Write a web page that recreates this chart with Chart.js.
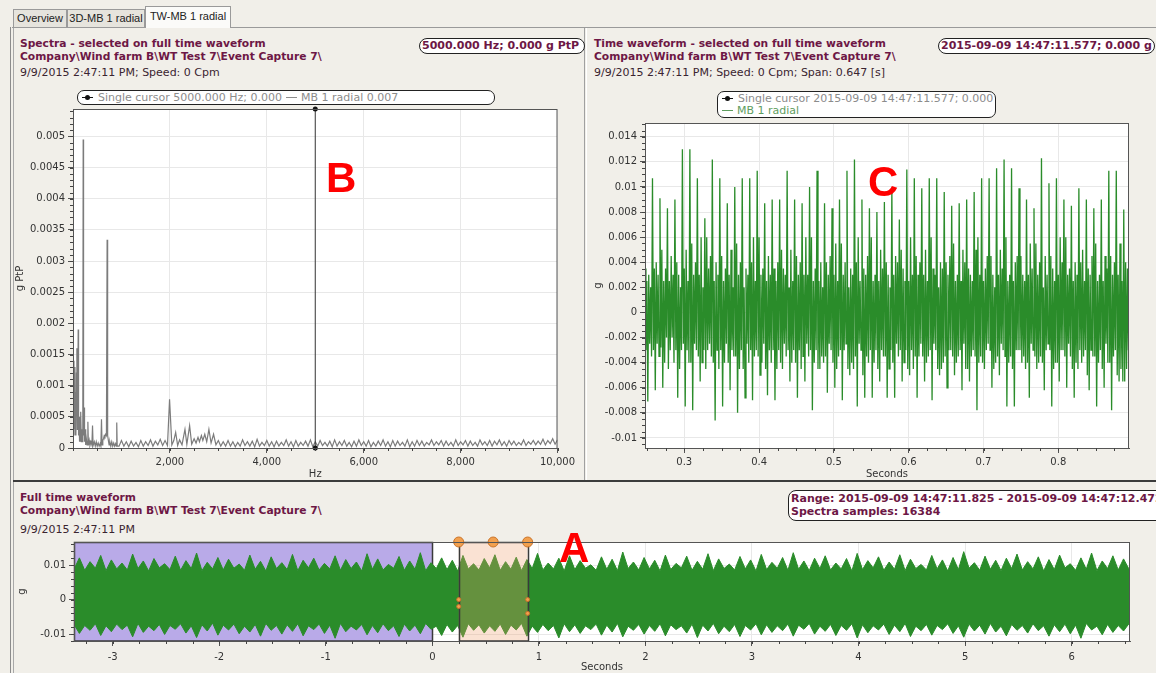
<!DOCTYPE html>
<html>
<head>
<meta charset="utf-8">
<title>TW-MB 1 radial</title>
<script src="https://cdn.jsdelivr.net/npm/chart.js@4.4.1/dist/chart.umd.min.js"></script>
<style>
    body { margin: 0; width: 1156px; height: 673px; overflow: hidden; position: relative;
           background: #f1efe9; font-family: "DejaVu Sans", sans-serif; }
    .abs { position: absolute; white-space: nowrap; }
    .hd { font-size: 10.7px; line-height: 12px; font-weight: bold; color: #6d1745; }
    .sub { font-size: 11px; line-height: 12px; color: #3a2430; }
    .vbox { position: absolute; background: #fff; border: 1px solid #222; border-radius: 8px;
            font-size: 11px; line-height: 13px; font-weight: bold; color: #6d1745; padding-left: 2px; box-sizing: border-box; white-space: nowrap; }
    .legend { position: absolute; background: #fff; border: 1px solid #222; border-radius: 7px;
              font-size: 11px; line-height: 12px; color: #8c8c8c; box-sizing: border-box; white-space: nowrap; padding-left: 4px; }
    .mk { display: inline-block; position: relative; width: 11px; height: 1px; background: #111; vertical-align: 3px; margin-right: 5px; }
    .mk::after { content: ""; position: absolute; left: 3px; top: -2px; width: 5px; height: 5px; border-radius: 50%; background: #111; }
    .dash { display: inline-block; width: 11px; height: 1px; background: #8c8c8c; vertical-align: 3px; margin: 0 4px; }
    .tab { position: absolute; font-family: "Liberation Sans", sans-serif; font-size: 11px; color: #222;
           border: 1px solid #9a9a9a; border-bottom: none; background: #e6e4dd; box-sizing: border-box; text-align: center; }
    .big { position: absolute; font-family: "Liberation Sans", Arial, sans-serif; font-weight: bold; font-size: 42px; line-height: 42px; color: #f00; }
    canvas { position: absolute; }
</style>
</head>
<body>

<!-- tabs and panel frame -->
<div class="tab" style="left:13px;top:9px;width:54px;height:18px;line-height:17px;">Overview</div>
<div class="tab" style="left:67px;top:9px;width:78px;height:18px;line-height:17px;">3D-MB 1 radial</div>
<div class="tab" style="left:145px;top:6px;width:86px;height:22px;line-height:19px;background:#fbfbf9;z-index:2;">TW-MB 1 radial</div>
<div class="abs" style="left:12px;top:27px;width:1144px;height:1px;background:#9a9a9a;"></div>
<div class="abs" style="left:10px;top:27px;width:1px;height:646px;background:#8c8c8c;"></div>
<div class="abs" style="left:13px;top:28px;width:1px;height:645px;background:#a8a8a8;"></div>
<div class="abs" style="left:584px;top:28px;width:1px;height:452px;background:#a0a0a0;"></div>
<div class="abs" style="left:586px;top:28px;width:1px;height:452px;background:#fff;"></div>
<div class="abs" style="left:13px;top:480px;width:1143px;height:2px;background:#3c3c3c;"></div>

<!-- spectrum panel text -->
<div class="abs hd" style="left:20px;top:38px;">Spectra - selected on full time waveform</div>
<div class="abs hd" style="left:20px;top:51px;">Company\Wind farm B\WT Test 7\Event Capture 7\</div>
<div class="abs sub" style="left:20px;top:67px;">9/9/2015 2:47:11 PM; Speed: 0 Cpm</div>
<div class="vbox" style="left:419px;top:38px;width:166px;height:16px;">5000.000 Hz; 0.000 g PtP</div>
<div class="legend" style="left:77px;top:90px;width:418px;height:15px;line-height:13px;"><span class="mk"></span>Single cursor 5000.000 Hz; 0.000<span class="dash"></span>MB 1 radial 0.007</div>

<!-- time waveform panel text -->
<div class="abs hd" style="left:594px;top:38px;">Time waveform - selected on full time waveform</div>
<div class="abs hd" style="left:594px;top:51px;">Company\Wind farm B\WT Test 7\Event Capture 7\</div>
<div class="abs sub" style="left:594px;top:67px;">9/9/2015 2:47:11 PM; Speed: 0 Cpm; Span: 0.647 [s]</div>
<div class="vbox" style="left:938px;top:38px;width:217px;height:16px;">2015-09-09 14:47:11.577; 0.000 g</div>
<div class="legend" style="left:717px;top:91px;width:279px;height:27px;padding-top:1px;">
    <div><span class="mk"></span>Single cursor 2015-09-09 14:47:11.577; 0.000</div>
    <div style="color:#5f9e5f;"><span class="dash" style="background:#5f9e5f;margin:0 4px 0 0;"></span>MB 1 radial</div>
</div>

<!-- full waveform panel text -->
<div class="abs hd" style="left:20px;top:492px;">Full time waveform</div>
<div class="abs hd" style="left:20px;top:505px;">Company\Wind farm B\WT Test 7\Event Capture 7\</div>
<div class="abs sub" style="left:20px;top:524px;">9/9/2015 2:47:11 PM</div>
<div class="vbox" style="left:788px;top:490px;width:380px;height:31px;line-height:13px;padding-top:1px;">Range: 2015-09-09 14:47:11.825 - 2015-09-09 14:47:12.472<br>Spectra samples: 16384</div>

<canvas id="specChart" width="566" height="382" style="left:12px;top:100px;"></canvas>
<canvas id="waveChart" width="562" height="368" style="left:590px;top:114px;"></canvas>
<canvas id="fullChart" width="1140" height="140" style="left:14px;top:533px;"></canvas>

<div class="big" style="left:326px;top:157px;">B</div>
<div class="big" style="left:868px;top:161px;">C</div>
<div class="big" style="left:559px;top:527px;">A</div>

<script>
// ---- B: spectrum of the selected range (Hz, g PtP) ----
const specTicksX = [2000, 4000, 6000, 8000, 10000];
const specTicksY = [0, 0.0005, 0.001, 0.0015, 0.002, 0.0025, 0.003, 0.0035, 0.004, 0.0045, 0.005];
const cursorHz = 5000;
const specPoints = [
    [10,0.0014],[20,0.0003],[30,0.0013],[40,0.0002],[50,0.0009],[60,0.0002],[70,0.0012],[80,0.0016],[90,0.0003],[100,0.001],
    [107,0.0019],[115,0.0002],[125,0.0005],[135,0.0001],[145,0.0004],[155,0.0001],[163,0.00058],[172,0.0001],[185,0.0003],[195,0.0001],
    [202,0.0003],[210,0.00495],[218,0.0002],[228,0.00065],[238,0.0001],[250,0.0003],[262,0.00005],[275,0.00015],[290,0.00005],[307,0.00042],
    [318,0.00004],[335,0.00012],[350,0.00004],[370,0.0001],[390,0.00005],[403,0.00036],[415,0.00004],[440,0.0001],[460,0.00003],[480,0.0001],
    [500,0.00003],[520,0.00008],[540,0.00003],[560,0.00007],[575,0.00003],[588,0.00046],[600,0.00005],[615,0.00012],[630,0.00015],[645,0.0002],
    [660,0.00018],[675,0.00022],[690,0.0002],[704,0.00334],[715,0.0002],[730,0.00012],[745,0.00005],[760,0.0001],[780,0.00003],[800,0.0001],
    [820,0.00003],[840,0.00008],[860,0.00003],[880,0.00007],[895,0.00003],[903,0.00041],[912,0.00003],
    [950,0.00003],[1000,0.00012],[1050,0.00003],[1100,0.0001],[1150,0.00002],[1200,0.00011],[1250,0.00003],[1300,0.00009],[1350,0.00002],[1400,0.00012],
    [1450,0.00003],[1500,0.0001],[1550,0.00004],[1600,0.00013],[1650,0.00003],[1700,0.00011],[1750,0.00005],[1800,0.00014],[1850,0.00004],[1900,0.00012],
    [1950,0.00004],[1993,0.00078],[2040,0.00005],[2080,0.00012],[2119,0.00025],[2160,0.00004],[2200,0.00013],[2250,0.00005],[2311,0.0003],[2350,0.00006],
    [2407,0.00036],[2450,0.00006],[2500,0.00015],[2540,0.00008],[2580,0.00017],[2610,0.0001],[2650,0.0002],[2680,0.00012],[2720,0.00022],[2760,0.0001],
    [2805,0.0003],[2850,0.00008],[2901,0.00022],[2950,0.00005],[3000,0.00012],[3050,0.00003],[3100,0.0001],[3150,0.00003],
    [3200,0.00012],[3250,0.00003],[3300,0.0001],[3350,0.00002],[3400,0.00009],[3450,0.00003],[3500,0.00013],[3550,0.00004],[3600,0.0001],[3650,0.00003],
    [3700,0.00011],[3750,0.00002],[3800,0.00014],[3850,0.00003],[3900,0.00009],[3950,0.00004],[4000,0.00012],[4050,0.00003],[4100,0.0001],[4150,0.00002],
    [4200,0.00011],[4250,0.00003],[4300,0.00009],[4350,0.00004],[4400,0.00013],[4450,0.00003],[4500,0.0001],[4550,0.00002],[4600,0.00012],[4650,0.00003],
    [4700,0.00009],[4750,0.00004],[4800,0.00011],[4850,0.00003],[4900,0.00013],[4950,0.00002],[5000,0.0001],[5050,0.00003],[5100,0.00012],[5150,0.00004],
    [5200,0.00009],[5250,0.00003],[5300,0.00011],[5350,0.00002],[5400,0.00013],[5450,0.00003],[5500,0.0001],[5550,0.00004],[5600,0.00012],[5650,0.00003],
    [5700,0.00009],[5750,0.00002],[5800,0.00011],[5850,0.00003],[5900,0.00013],[5950,0.00004],[6000,0.0001],[6050,0.00003],[6100,0.00012],[6150,0.00002],
    [6200,0.00009],[6250,0.00003],[6300,0.00011],[6350,0.00004],[6400,0.00013],[6450,0.00003],[6500,0.0001],[6550,0.00002],[6600,0.00012],[6650,0.00003],
    [6700,0.00011],[6750,0.00004],[6800,0.00009],[6850,0.00003],[6900,0.00013],[6950,0.00002],[7000,0.0001],[7050,0.00003],[7100,0.00012],[7150,0.00004],
    [7200,0.00011],[7250,0.00003],[7300,0.00009],[7350,0.00005],[7400,0.00013],[7450,0.00004],[7500,0.0001],[7550,0.00005],[7600,0.00012],[7650,0.00003],
    [7700,0.00011],[7750,0.00004],[7800,0.00009],[7850,0.00003],[7900,0.00013],[7950,0.00004],[8000,0.0001],[8050,0.00005],[8100,0.00012],[8150,0.00003],
    [8200,0.00011],[8250,0.00004],[8300,0.00009],[8350,0.00003],[8400,0.00013],[8450,0.00005],[8500,0.0001],[8550,0.00004],[8600,0.00012],[8650,0.00003],
    [8700,0.00011],[8750,0.00005],[8800,0.00013],[8850,0.00004],[8900,0.0001],[8950,0.00003],[9000,0.00012],[9050,0.00005],[9100,0.00011],[9150,0.00004],
    [9200,0.00009],[9250,0.00005],[9300,0.00013],[9350,0.00004],[9400,0.0001],[9450,0.00006],[9500,0.00012],[9550,0.00005],[9600,0.00011],[9650,0.00006],
    [9700,0.00014],[9750,0.00005],[9800,0.00012],[9850,0.00007],[9900,0.00015],[9950,0.00006],[10000,0.00013]
];

// ---- C: selected time waveform, one sample every waveStep seconds from waveStart (g) ----
const waveStart = 0.2475, waveStep = 0.00125;
const waveTicksX = [0.3, 0.4, 0.5, 0.6, 0.7, 0.8];
const waveTicksY = [-0.01, -0.008, -0.006, -0.004, -0.002, 0, 0.002, 0.004, 0.006, 0.008, 0.01, 0.012, 0.014];
const waveValues = [
    0.0035,-0.0030,0.0025,-0.0071,0.0030,-0.0025,0.0020,-0.0035,  0.0107,-0.0030,0.0035,-0.0062,0.0040,-0.0025,0.0030,-0.0035,
    0.0091,-0.0028,0.0050,-0.0060,0.0025,-0.0040,0.0035,-0.0020,  0.0083,-0.0045,0.0025,-0.0030,0.0045,-0.0020,0.0030,-0.0040,
    0.0090,-0.0030,0.0040,-0.0068,0.0030,-0.0045,0.0020,-0.0030,  0.0130,-0.0025,0.0035,-0.0075,0.0050,-0.0030,0.0025,-0.0040,
    0.0130,-0.0040,0.0055,-0.0078,0.0030,-0.0025,0.0040,-0.0030,  0.0107,-0.0035,0.0030,-0.0055,0.0060,-0.0040,0.0020,-0.0030,
    0.0075,-0.0045,0.0060,-0.0030,0.0035,-0.0025,0.0045,-0.0035,  0.0122,-0.0040,0.0025,-0.0086,0.0040,-0.0030,0.0030,-0.0045,
    0.0107,-0.0030,0.0045,-0.0075,0.0025,-0.0040,0.0035,-0.0025,  0.0087,-0.0040,0.0030,-0.0062,0.0050,-0.0030,0.0020,-0.0035,
    0.0100,-0.0035,0.0055,-0.0080,0.0030,-0.0045,0.0040,-0.0030,  0.0107,-0.0045,0.0020,-0.0068,0.0035,-0.0025,0.0030,-0.0040,
    0.0107,-0.0030,0.0040,-0.0070,0.0060,-0.0035,0.0025,-0.0030,  0.0113,-0.0035,0.0060,-0.0050,0.0030,-0.0040,0.0035,-0.0025,
    0.0087,-0.0045,0.0025,-0.0066,0.0045,-0.0030,0.0030,-0.0040,  0.0090,-0.0030,0.0035,-0.0070,0.0025,-0.0045,0.0040,-0.0030,
    0.0090,-0.0040,0.0050,-0.0045,0.0035,-0.0025,0.0030,-0.0035,  0.0113,-0.0030,0.0020,-0.0055,0.0050,-0.0040,0.0025,-0.0030,
    0.0090,-0.0040,0.0045,-0.0068,0.0030,-0.0030,0.0040,-0.0045,  0.0087,-0.0035,0.0030,-0.0055,0.0060,-0.0025,0.0030,-0.0035,
    0.0100,-0.0030,0.0060,-0.0078,0.0025,-0.0040,0.0035,-0.0030,  0.0113,-0.0045,0.0025,-0.0045,0.0040,-0.0035,0.0020,-0.0040,
    0.0087,-0.0035,0.0040,-0.0064,0.0030,-0.0025,0.0045,-0.0030,  0.0083,-0.0040,0.0030,-0.0060,0.0055,-0.0045,0.0025,-0.0035,
    0.0090,-0.0030,0.0055,-0.0070,0.0030,-0.0030,0.0040,-0.0025,  0.0113,-0.0045,0.0020,-0.0050,0.0035,-0.0040,0.0030,-0.0045,
    0.0122,-0.0035,0.0040,-0.0075,0.0060,-0.0025,0.0025,-0.0030,  0.0090,-0.0050,0.0035,-0.0068,0.0030,-0.0035,0.0045,-0.0040,
    0.0083,-0.0030,0.0060,-0.0068,0.0025,-0.0040,0.0030,-0.0030,  0.0080,-0.0045,0.0025,-0.0055,0.0050,-0.0030,0.0035,-0.0035,
    0.0088,-0.0035,0.0040,-0.0068,0.0030,-0.0045,0.0020,-0.0030,  0.0099,-0.0040,0.0030,-0.0068,0.0045,-0.0025,0.0040,-0.0035,
    0.0074,-0.0030,0.0050,-0.0055,0.0035,-0.0040,0.0025,-0.0030,  0.0114,-0.0045,0.0025,-0.0050,0.0060,-0.0030,0.0030,-0.0045,
    0.0107,-0.0035,0.0045,-0.0068,0.0030,-0.0035,0.0040,-0.0025,  0.0099,-0.0035,0.0030,-0.0055,0.0050,-0.0040,0.0025,-0.0035,
    0.0107,-0.0030,0.0060,-0.0070,0.0035,-0.0025,0.0030,-0.0030,  0.0107,-0.0045,0.0020,-0.0050,0.0040,-0.0045,0.0035,-0.0040,
    0.0096,-0.0035,0.0040,-0.0060,0.0030,-0.0030,0.0045,-0.0030,  0.0085,-0.0035,0.0055,-0.0050,0.0025,-0.0040,0.0030,-0.0035,
    0.0087,-0.0030,0.0025,-0.0062,0.0050,-0.0025,0.0040,-0.0045,  0.0090,-0.0045,0.0035,-0.0055,0.0030,-0.0035,0.0025,-0.0030,
    0.0096,-0.0035,0.0050,-0.0078,0.0060,-0.0040,0.0030,-0.0035,  0.0107,-0.0040,0.0025,-0.0045,0.0035,-0.0030,0.0045,-0.0025,
    0.0107,-0.0030,0.0045,-0.0060,0.0030,-0.0045,0.0020,-0.0040,  0.0115,-0.0035,0.0030,-0.0050,0.0050,-0.0025,0.0035,-0.0030,
    0.0122,-0.0035,0.0060,-0.0075,0.0025,-0.0040,0.0030,-0.0035,  0.0115,-0.0045,0.0025,-0.0075,0.0040,-0.0030,0.0045,-0.0030,
    0.0099,-0.0030,0.0045,-0.0040,0.0030,-0.0035,0.0025,-0.0045,  0.0090,-0.0040,0.0030,-0.0068,0.0055,-0.0025,0.0035,-0.0030,
    0.0083,-0.0035,0.0055,-0.0045,0.0030,-0.0040,0.0040,-0.0035,  0.0123,-0.0040,0.0020,-0.0062,0.0045,-0.0030,0.0030,-0.0025,
    0.0103,-0.0030,0.0045,-0.0075,0.0035,-0.0045,0.0025,-0.0040,  0.0107,-0.0040,0.0030,-0.0055,0.0060,-0.0030,0.0040,-0.0030,
    0.0090,-0.0035,0.0060,-0.0060,0.0030,-0.0025,0.0035,-0.0035,  0.0085,-0.0045,0.0025,-0.0068,0.0040,-0.0040,0.0030,-0.0045,
    0.0099,-0.0030,0.0040,-0.0040,0.0050,-0.0035,0.0025,-0.0030,  0.0090,-0.0050,0.0035,-0.0062,0.0030,-0.0030,0.0045,-0.0035,
    0.0083,-0.0035,0.0055,-0.0075,0.0025,-0.0040,0.0030,-0.0030,  0.0090,-0.0045,0.0025,-0.0060,0.0045,-0.0025,0.0035,-0.0040,
    0.0113,-0.0040,0.0045,-0.0078,0.0030,-0.0035,0.0040,-0.0030,  0.0113,-0.0050,0.0030,-0.0055,0.0055,-0.0045,0.0025,-0.0055,
    0.0082,-0.0055,0.0040,-0.0045,0.0035,-0.0030,0.0040,-0.0055
];

// ---- A: full time waveform envelope, one value every fullStep seconds from fullStart (g) ----
const fullStart = -3.3625, fullStep = 0.05;
const fullTicksX = [-3, -2, -1, 0, 1, 2, 3, 4, 5, 6];
const fullTicksY = [-0.01, 0, 0.01];
const prevRange = [-3.3625, 0];
const selRange = [0.2475, 0.8945];
const fullUpper = [
    0.0088,0.0121,0.0085,0.0110,0.0091,0.0128,0.0084,0.0115,0.0089,0.0106,0.0086,0.0132,0.0090,0.0112,0.0083,0.0119,0.0092,0.0104,0.0087,0.0126,
    0.0085,0.0113,0.0090,0.0135,0.0084,0.0108,0.0089,0.0122,0.0086,0.0117,0.0091,0.0103,0.0085,0.0129,0.0088,0.0111,0.0083,0.0124,0.0090,0.0107,
    0.0087,0.0131,0.0084,0.0114,0.0092,0.0120,0.0086,0.0105,0.0089,0.0127,0.0085,0.0116,0.0090,0.0109,0.0083,0.0133,0.0088,0.0118,0.0086,0.0102,
    0.0091,0.0125,0.0085,0.0112,0.0088,0.0136,0.0084,0.0107,0.0090,0.0121,0.0087,0.0114,0.0083,0.0128,0.0089,0.0104,0.0086,0.0119,0.0092,0.0130,
    0.0085,0.0110,0.0088,0.0123,0.0084,0.0116,0.0090,0.0134,0.0086,0.0106,0.0089,0.0120,0.0083,0.0127,0.0087,0.0113,0.0091,0.0101,0.0085,0.0124,
    0.0088,0.0117,0.0084,0.0138,0.0090,0.0109,0.0086,0.0122,0.0089,0.0114,0.0083,0.0129,0.0087,0.0105,0.0092,0.0126,0.0085,0.0111,0.0088,0.0133,
    0.0084,0.0118,0.0090,0.0103,0.0086,0.0125,0.0089,0.0115,0.0083,0.0131,0.0087,0.0108,0.0091,0.0122,0.0085,0.0136,0.0088,0.0112,0.0084,0.0120,
    0.0090,0.0127,0.0086,0.0106,0.0089,0.0119,0.0083,0.0134,0.0087,0.0113,0.0092,0.0124,0.0085,0.0109,0.0088,0.0130,0.0084,0.0117,0.0090,0.0102,
    0.0086,0.0128,0.0089,0.0115,0.0083,0.0122,0.0087,0.0139,0.0091,0.0107,0.0085,0.0126,0.0088,0.0114,0.0084,0.0120,0.0090,0.0132,0.0086,0.0110,
    0.0089,0.0124,0.0083,0.0116,0.0087,0.0129,0.0092,0.0104,0.0085,0.0121,0.0088,0.0135,0.0084,0.0112,0.0090,0.0127,0.0086,0.0118,0.0089,0.0108
];
const fullLower = [
    -0.0072,-0.0098,-0.0075,-0.0089,-0.0070,-0.0104,-0.0076,-0.0093,-0.0071,-0.0087,-0.0074,-0.0108,-0.0069,-0.0095,-0.0077,-0.0090,-0.0072,-0.0101,-0.0075,-0.0086,
    -0.0070,-0.0097,-0.0076,-0.0110,-0.0073,-0.0091,-0.0068,-0.0103,-0.0074,-0.0088,-0.0071,-0.0099,-0.0077,-0.0094,-0.0072,-0.0106,-0.0069,-0.0089,-0.0075,-0.0100,
    -0.0073,-0.0092,-0.0070,-0.0105,-0.0076,-0.0087,-0.0071,-0.0098,-0.0074,-0.0112,-0.0069,-0.0093,-0.0077,-0.0088,-0.0072,-0.0102,-0.0075,-0.0096,-0.0070,-0.0090,
    -0.0076,-0.0107,-0.0071,-0.0091,-0.0074,-0.0099,-0.0069,-0.0086,-0.0077,-0.0104,-0.0072,-0.0094,-0.0075,-0.0109,-0.0070,-0.0089,-0.0073,-0.0097,-0.0076,-0.0092,
    -0.0071,-0.0101,-0.0074,-0.0088,-0.0069,-0.0106,-0.0077,-0.0095,-0.0072,-0.0090,-0.0075,-0.0111,-0.0070,-0.0093,-0.0073,-0.0098,-0.0076,-0.0087,-0.0071,-0.0103,
    -0.0074,-0.0094,-0.0069,-0.0108,-0.0077,-0.0089,-0.0072,-0.0100,-0.0075,-0.0092,-0.0070,-0.0105,-0.0073,-0.0087,-0.0076,-0.0097,-0.0071,-0.0110,-0.0074,-0.0091,
    -0.0069,-0.0099,-0.0077,-0.0093,-0.0072,-0.0107,-0.0075,-0.0088,-0.0070,-0.0102,-0.0073,-0.0095,-0.0076,-0.0090,-0.0071,-0.0106,-0.0074,-0.0086,-0.0069,-0.0100,
    -0.0077,-0.0092,-0.0072,-0.0104,-0.0075,-0.0089,-0.0070,-0.0111,-0.0073,-0.0096,-0.0076,-0.0088,-0.0071,-0.0101,-0.0074,-0.0093,-0.0069,-0.0107,-0.0077,-0.0090,
    -0.0072,-0.0103,-0.0075,-0.0087,-0.0070,-0.0098,-0.0076,-0.0109,-0.0071,-0.0091,-0.0074,-0.0100,-0.0069,-0.0094,-0.0077,-0.0105,-0.0072,-0.0089,-0.0075,-0.0097,
    -0.0070,-0.0090,-0.0076,-0.0106,-0.0073,-0.0093,-0.0071,-0.0099,-0.0074,-0.0112,-0.0069,-0.0088,-0.0077,-0.0102,-0.0072,-0.0095,-0.0075,-0.0091,-0.0070,-0.0104
];

const GREEN = '#2a8c2a';
const FONT = { family: 'DejaVu Sans', size: 10 };

// white plot area, shaded ranges, frame and minor ticks
const framePlugin = {
    id: 'frame',
    beforeDraw(chart) {
        const { ctx, chartArea: a } = chart;
        ctx.save();
        ctx.fillStyle = '#fff';
        ctx.fillRect(a.left, a.top, a.right - a.left, a.bottom - a.top);
        ctx.restore();
    },
    beforeDatasetsDraw(chart, args, opts) {
        (opts.under || []).forEach(r => drawRange(chart, r));
    },
    afterDatasetsDraw(chart, args, opts) {
        (opts.over || []).forEach(r => drawRange(chart, r));
        const { ctx, scales: { x, y } } = chart;
        (opts.handles || []).forEach(h => {
            ctx.save();
            ctx.beginPath();
            ctx.arc(x.getPixelForValue(h.x), h.y === 'top' ? chart.chartArea.top : y.getPixelForValue(h.y), h.r, 0, Math.PI * 2);
            ctx.fillStyle = '#f2a04e';
            ctx.fill();
            ctx.strokeStyle = '#c9732a';
            ctx.lineWidth = 1;
            ctx.stroke();
            ctx.restore();
        });
    },
    afterDraw(chart, args, opts) {
        const { ctx, chartArea: a, scales: { x, y } } = chart;
        ctx.save();
        ctx.strokeStyle = '#555';
        ctx.lineWidth = 1;
        ctx.strokeRect(a.left + 0.5, a.top + 0.5, a.right - a.left - 1, a.bottom - a.top);
        ctx.strokeStyle = '#444';
        ctx.beginPath();
        if (opts.xMinor) {
            const n0 = Math.ceil(x.min / opts.xMinor - 1e-9), n1 = Math.floor(x.max / opts.xMinor + 1e-9);
            for (let n = n0; n <= n1; n++) {
                const p = Math.round(x.getPixelForValue(n * opts.xMinor)) + 0.5;
                ctx.moveTo(p, a.bottom);
                ctx.lineTo(p, a.bottom + 3);
            }
        }
        if (opts.yMinor) {
            const n0 = Math.ceil(y.min / opts.yMinor - 1e-9), n1 = Math.floor(y.max / opts.yMinor + 1e-9);
            for (let n = n0; n <= n1; n++) {
                const p = Math.round(y.getPixelForValue(n * opts.yMinor)) + 0.5;
                ctx.moveTo(a.left - 3, p);
                ctx.lineTo(a.left, p);
            }
        }
        ctx.stroke();
        ctx.restore();
    }
};

function drawRange(chart, r) {
    const { ctx, chartArea: a, scales: { x } } = chart;
    const x0 = Math.max(a.left, x.getPixelForValue(r.from));
    const x1 = Math.min(a.right, x.getPixelForValue(r.to));
    ctx.save();
    ctx.fillStyle = r.fill;
    ctx.fillRect(x0, a.top, x1 - x0, a.bottom - a.top);
    ctx.strokeStyle = r.stroke;
    ctx.lineWidth = 1.5;
    ctx.strokeRect(Math.round(x0) + 0.5, a.top + 0.5, Math.round(x1 - x0), a.bottom - a.top - 0.5);
    ctx.restore();
}

function axis(o) {
    return {
        type: 'linear',
        min: o.min,
        max: o.max,
        afterBuildTicks: s => { s.ticks = o.ticks.map(v => ({ value: v })); },
        afterFit: s => { if (s.isHorizontal()) s.height = o.size; else s.width = o.size; },
        border: { color: '#555' },
        grid: { color: '#e8e8e8', tickColor: '#555', tickLength: 5 },
        ticks: { color: '#333', font: FONT, padding: o.pad || 3, maxRotation: 0, autoSkip: false,
                 callback: o.fmt || (v => String(+v.toFixed(6))) },
        title: { display: true, text: o.title, color: '#333', font: FONT, padding: { top: 2, bottom: o.tpad === undefined ? 2 : o.tpad } }
    };
}

const baseOptions = {
    responsive: false,
    animation: false,
    events: [],
    plugins: { legend: { display: false }, tooltip: { enabled: false } }
};

// B: spectrum
new Chart(document.getElementById('specChart'), {
    type: 'scatter',
    data: {
        datasets: [
            {   // single cursor
                data: [{ x: cursorHz, y: 0 }, { x: cursorHz, y: 0.00544 }],
                showLine: true, borderColor: '#333', borderWidth: 1,
                pointRadius: 2.5, pointBackgroundColor: '#111', pointBorderWidth: 0, clip: false
            },
            {
                data: specPoints.map(p => ({ x: p[0], y: p[1] })),
                showLine: true, borderColor: '#7c7c7c', borderWidth: 1.2, pointRadius: 0
            }
        ]
    },
    options: {
        ...baseOptions,
        layout: { padding: { top: 9, right: 20, left: 0, bottom: 0 } },
        plugins: { ...baseOptions.plugins, frame: { xMinor: 500, yMinor: 0.0001 } },
        scales: {
            x: axis({ min: 0, max: 10000, ticks: specTicksX, size: 34, title: 'Hz', fmt: v => v.toLocaleString('en-US') }),
            y: axis({ min: 0, max: 0.00544, ticks: specTicksY, size: 61, title: 'g PtP' })
        }
    },
    plugins: [framePlugin]
});

// C: selected time waveform
new Chart(document.getElementById('waveChart'), {
    type: 'scatter',
    data: {
        datasets: [{
            data: waveValues.map((v, i) => ({ x: waveStart + i * waveStep, y: v })),
            showLine: true, borderColor: GREEN, borderWidth: 1.3, pointRadius: 0
        }]
    },
    options: {
        ...baseOptions,
        layout: { padding: { top: 9, right: 23, left: 0, bottom: 0 } },
        plugins: { ...baseOptions.plugins, frame: { xMinor: 0.025, yMinor: 0.0005 } },
        scales: {
            x: axis({ min: 0.2475, max: 0.8945, ticks: waveTicksX, size: 34, title: 'Seconds' }),
            y: axis({ min: -0.0108, max: 0.0151, ticks: waveTicksY, size: 55, title: 'g' })
        }
    },
    plugins: [framePlugin]
});

// A: full time waveform with previous and selected ranges
new Chart(document.getElementById('fullChart'), {
    type: 'scatter',
    data: {
        datasets: [
            {
                data: fullUpper.map((v, i) => ({ x: fullStart + i * fullStep, y: v })),
                showLine: true, borderColor: GREEN, borderWidth: 1, pointRadius: 0,
                backgroundColor: GREEN, fill: '+1'
            },
            {
                data: fullLower.map((v, i) => ({ x: fullStart + i * fullStep, y: v })),
                showLine: true, borderColor: GREEN, borderWidth: 1, pointRadius: 0
            }
        ]
    },
    options: {
        ...baseOptions,
        layout: { padding: { top: 9, right: 24, left: 0, bottom: 0 } },
        plugins: {
            ...baseOptions.plugins,
            frame: {
                xMinor: 0.25, yMinor: 0.002,
                under: [{ from: prevRange[0], to: prevRange[1], fill: '#b9aae8', stroke: '#3a3a3a' }],
                over: [{ from: selRange[0], to: selRange[1], fill: 'rgba(240,160,110,0.3)', stroke: '#3a3a3a' }],
                handles: [
                    { x: selRange[0], y: 'top', r: 5 }, { x: (selRange[0] + selRange[1]) / 2, y: 'top', r: 5 }, { x: selRange[1], y: 'top', r: 5 },
                    { x: selRange[0], y: 0, r: 2 }, { x: selRange[0], y: -0.002, r: 2 },
                    { x: selRange[1], y: 0, r: 2 }, { x: selRange[1], y: -0.004, r: 2 }
                ]
            }
        },
        scales: {
            x: axis({ min: -3.363, max: 6.548, ticks: fullTicksX, size: 32, title: 'Seconds', pad: 5, tpad: 0 }),
            y: axis({ min: -0.012, max: 0.0167, ticks: fullTicksY, size: 60, title: 'g' })
        }
    },
    plugins: [framePlugin]
});
</script>
</body>
</html>
